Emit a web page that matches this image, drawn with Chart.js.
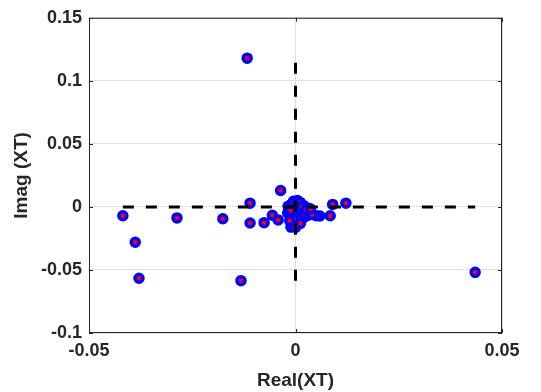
<!DOCTYPE html>
<html>
<head>
<meta charset="utf-8">
<script src="https://cdn.jsdelivr.net/npm/chart.js@4/dist/chart.umd.min.js"></script>
<style>
html, body { margin: 0; padding: 0; background: #fff; }
#xt { display: block; }
</style>
</head>
<body>
<canvas id="xt" width="541" height="392"></canvas>
<script>
// eigenvalues of XT
const realXT = [
    -0.0117, -0.0418, -0.0388, -0.0379, -0.0287, -0.0176, -0.0110, -0.0110,
    -0.0132, -0.0076, -0.0056, -0.0042, -0.0036, 0.0435, 0.0122, 0.0090,
    0.0084, 0.0059, 0.0050,
    // cluster round the origin
    -0.0018, -0.0015, -0.0019, -0.0010, -0.0005, 0.0005, 0.0012, 0.0020,
    0.0030, 0.0033, 0.0028, 0.0018, 0.0008, 0.0001, -0.0011, -0.0004,
    0.0004, -0.0008, 0.0010, 0.0000, -0.0003, 0.0040, 0.0000,
    0.0020, 0.0015, -0.0012, 0.0025, -0.0014, 0.0036, 0.0012
];
const imagXT = [
    0.1180, -0.0070, -0.0280, -0.0566, -0.0087, -0.0094, 0.0030, -0.0128,
    -0.0585, -0.0125, -0.0066, -0.0103, 0.0130, -0.0519, 0.0030, 0.0020,
    -0.0070, -0.0072, -0.0070,
    0.0005, -0.0015, -0.0048, 0.0020, 0.0045, 0.0050, 0.0035, 0.0010,
    -0.0010, -0.0040, -0.0070, -0.0090, -0.0110, -0.0134, -0.0160, -0.0150,
    -0.0080, -0.0060, -0.0030, 0.0000, -0.0100, -0.0060, -0.0163,
    -0.0050, 0.0000, -0.0030, -0.0020, -0.0110, -0.0015, -0.0130
];
const xTicks = [-0.05, 0, 0.05];
const yTicks = [-0.1, -0.05, 0, 0.05, 0.1, 0.15];

const ink = '#262626';
const font = { family: '"Liberation Sans", Arial, sans-serif', weight: 'bold' };

let points = realXT.map((r, i) => ({ x: r, y: imagXT[i] }));
let hLine = [{ x: Math.min(...realXT), y: 0 }, { x: Math.max(...realXT), y: 0 }];
let vLine = [{ x: 0, y: Math.min(...imagXT) }, { x: 0, y: Math.max(...imagXT) }];

// MATLAB style box with inward ticks
const boxPlugin = {
    id: 'box',
    afterDraw(chart) {
        const { ctx, chartArea: a, scales: { x, y } } = chart;
        ctx.save();
        ctx.strokeStyle = ink;
        ctx.lineWidth = 1;
        ctx.strokeRect(a.left + 0.5, a.top + 0.5, a.right - a.left - 1, a.bottom - a.top - 1);
        ctx.beginPath();
        xTicks.forEach(v => {
            let px = Math.round(x.getPixelForValue(v)) + 0.5;
            ctx.moveTo(px, a.bottom); ctx.lineTo(px, a.bottom - 4);
            ctx.moveTo(px, a.top); ctx.lineTo(px, a.top + 4);
        });
        yTicks.forEach(v => {
            let py = Math.round(y.getPixelForValue(v)) + 0.5;
            ctx.moveTo(a.left, py); ctx.lineTo(a.left + 4, py);
            ctx.moveTo(a.right, py); ctx.lineTo(a.right - 4, py);
        });
        ctx.stroke();
        ctx.restore();
    }
};

new Chart(document.getElementById('xt'), {
    type: 'scatter',
    data: {
        datasets: [
            {
                data: hLine, type: 'line', showLine: true, order: 0,
                borderColor: '#000', borderWidth: 3, borderDash: [11, 12],
                pointRadius: 0, fill: false
            },
            {
                data: vLine, type: 'line', showLine: true, order: 0,
                borderColor: '#000', borderWidth: 3, borderDash: [11, 12],
                pointRadius: 0, fill: false
            },
            {
                data: points, order: 1,
                pointRadius: 4, pointHoverRadius: 4, borderWidth: 3.5,
                borderColor: '#0000ff', backgroundColor: '#ff0000'
            }
        ]
    },
    options: {
        responsive: false,
        animation: false,
        devicePixelRatio: 1,
        events: [],
        layout: { padding: { top: 13, right: 39, left: 0, bottom: 0 } },
        plugins: { legend: { display: false }, tooltip: { enabled: false } },
        scales: {
            x: {
                type: 'linear', min: -0.05, max: 0.05,
                afterFit(s) { s.height = 59; },
                afterBuildTicks(s) { s.ticks = xTicks.map(v => ({ value: v })); },
                ticks: { padding: 7, color: ink, font: { ...font, size: 18 }, callback: v => String(v) },
                grid: { color: '#dfdfdf', drawTicks: false },
                border: { display: false },
                title: {
                    display: true, text: 'Real(XT)', color: ink,
                    font: { ...font, size: 19, lineHeight: 1 }, padding: { top: 0, bottom: 2 }
                }
            },
            y: {
                type: 'linear', min: -0.1, max: 0.15,
                afterFit(s) { s.width = 89; },
                afterBuildTicks(s) { s.ticks = yTicks.map(v => ({ value: v })); },
                ticks: { padding: 7, color: ink, font: { ...font, size: 18 }, callback: v => String(v) },
                grid: { color: '#dfdfdf', drawTicks: false },
                border: { display: false },
                title: {
                    display: true, text: 'Imag (XT)', color: ink,
                    font: { ...font, size: 19, lineHeight: 1 }, padding: { top: 12, bottom: 0 }
                }
            }
        }
    },
    plugins: [boxPlugin]
});
</script>
</body>
</html>
